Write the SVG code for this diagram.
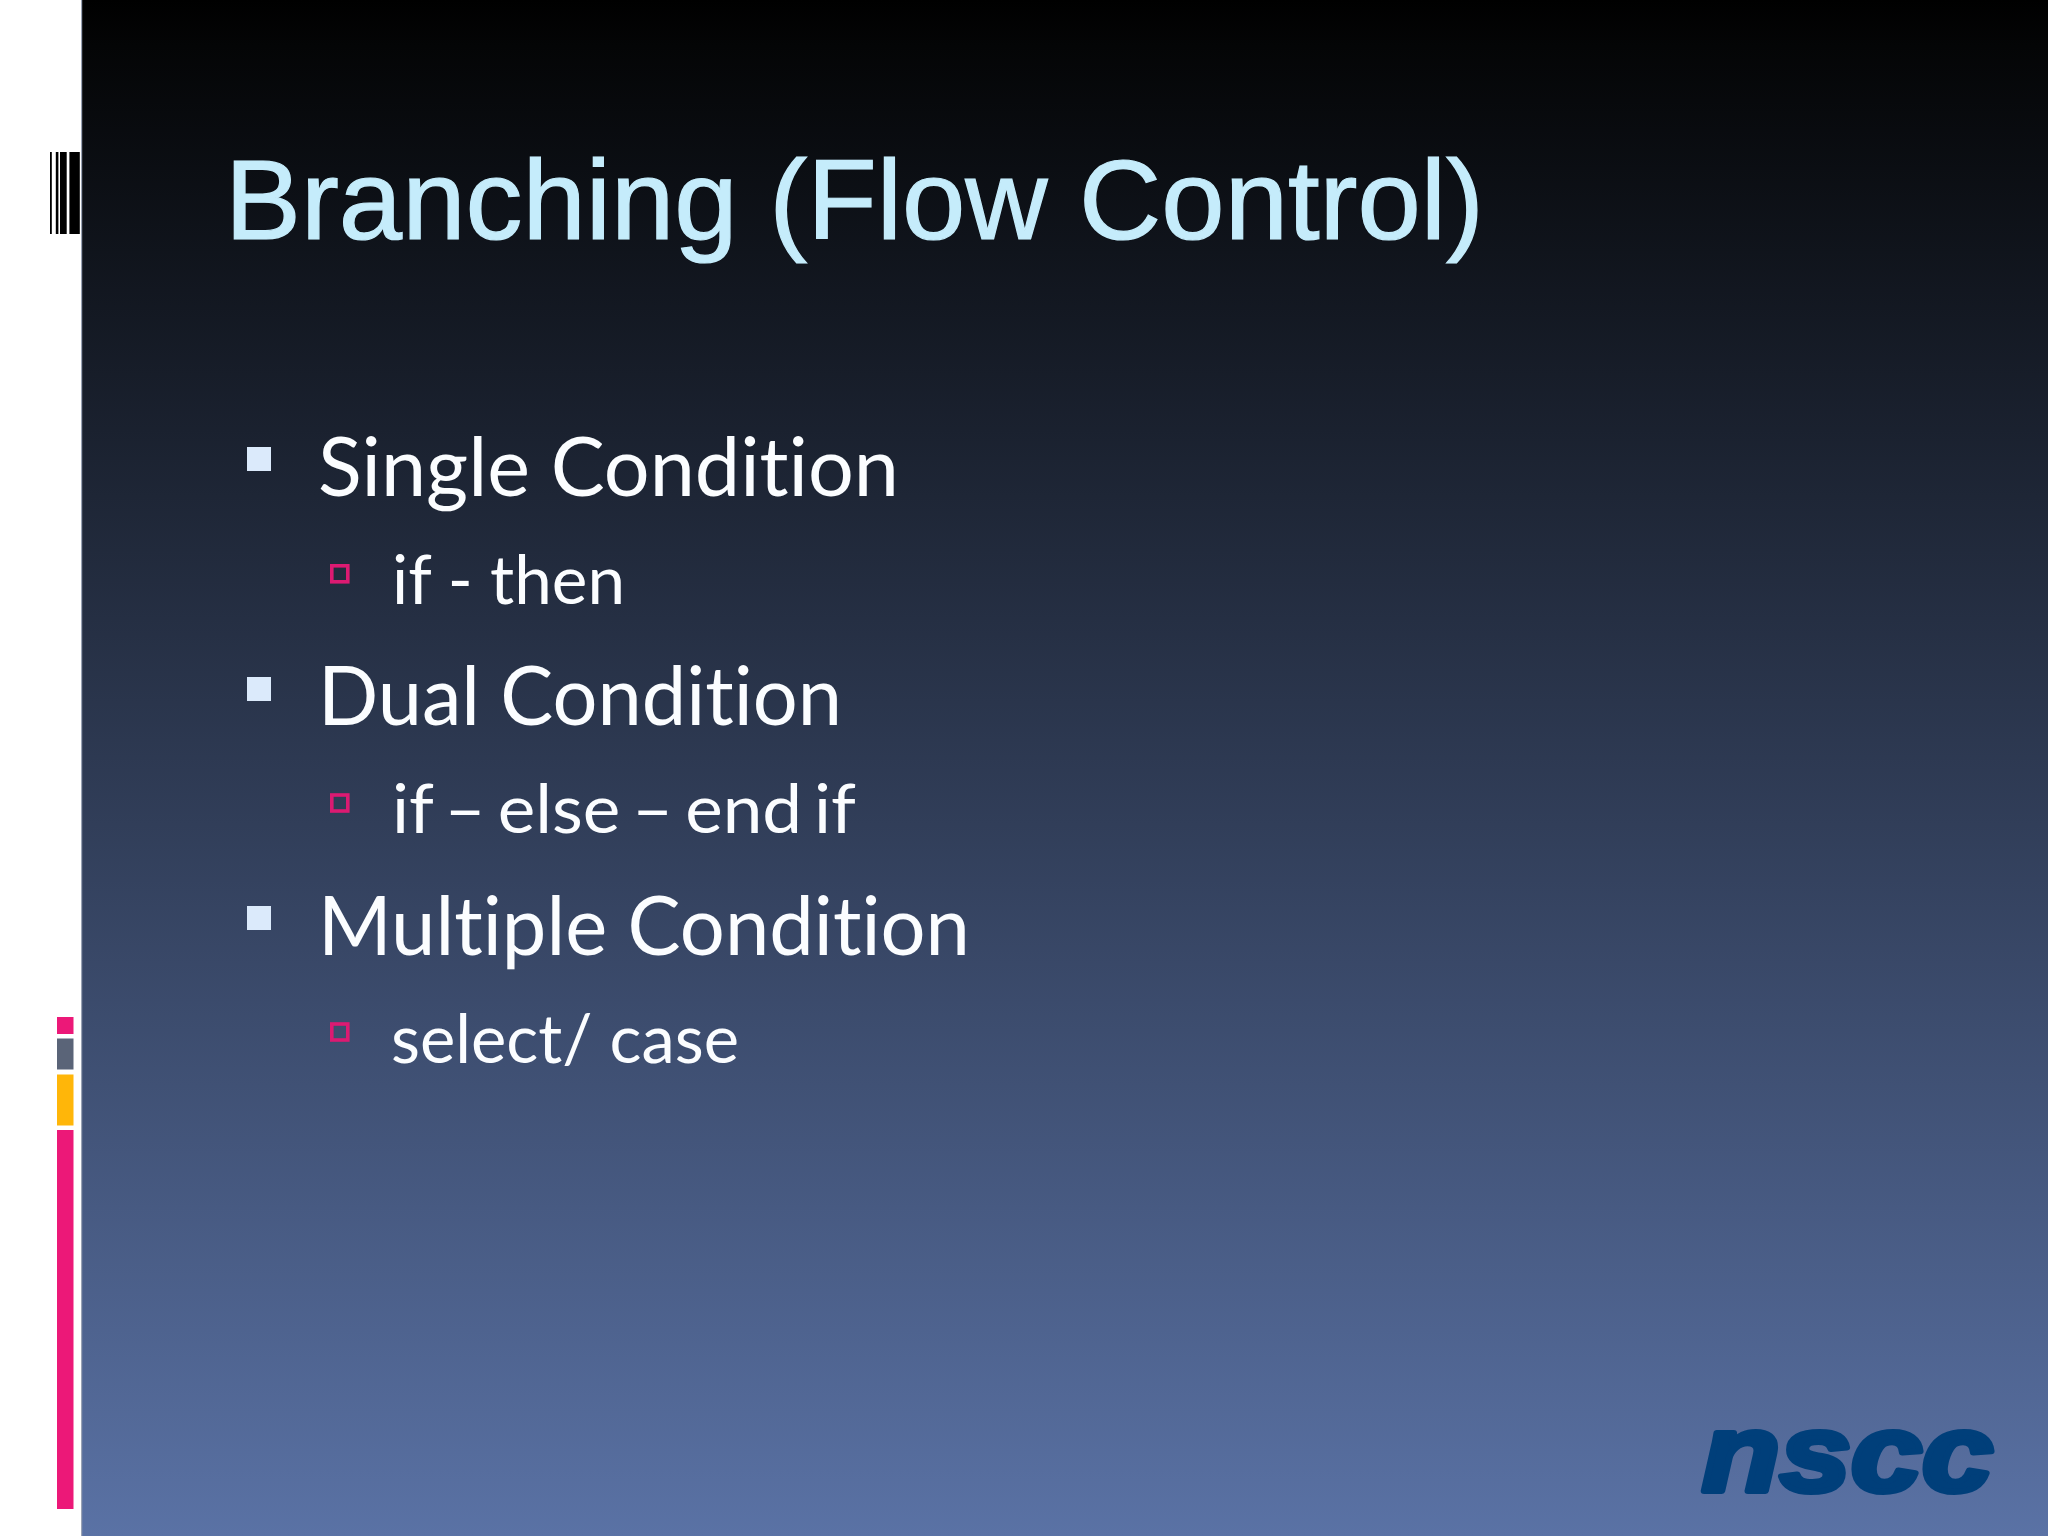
<svg xmlns="http://www.w3.org/2000/svg" width="2048" height="1536" viewBox="0 0 2048 1536">
<style>
.body{font-family:"Lato","Carlito","Liberation Sans",sans-serif;fill:#fbfdff;font-variant-ligatures:none}
.l1{font-size:81px}
.l2{font-size:68px}
.b1{fill:#dbeafb}
.b2{fill:none;stroke:#dc1a72;stroke-width:3.6}
.pink{fill:#ec1878}
.bar{fill:#000}
</style>
<defs>
<linearGradient id="bg" x1="0" y1="0" x2="0" y2="1">
<stop offset="0" stop-color="#000"/>
<stop offset="0.03" stop-color="#040506"/>
<stop offset="1" stop-color="#5a72a5"/>
</linearGradient>
</defs>
<rect id="page" width="2048" height="1536" fill="#fff"/>
<rect id="panel" x="82" width="1966" height="1536" fill="url(#bg)"/>
<rect x="81" width="1.2" height="1536" fill="#9aa3b5"/>
<g id="barcode">
<rect class="bar" x="50" y="152" width="1.8" height="82"/>
<rect class="bar" x="55.8" y="152" width="2.6" height="82"/>
<rect class="bar" x="60" y="152" width="6.7" height="82"/>
<rect class="bar" x="69.4" y="152" width="10.4" height="82"/>
</g>
<g id="strip">
<rect class="pink" x="57" y="1017" width="16.5" height="17"/>
<rect x="57" y="1038.500" width="16.500" height="31" fill="#5a6478"/>
<rect x="57" y="1074.500" width="16.500" height="51" fill="#ffb609"/>
<rect class="pink" x="57" y="1130" width="16.500" height="379"/>
</g>
<text id="title" x="225" y="239" font-family="Liberation Sans,Arial,sans-serif" font-size="114" fill="#c5ecfb" stroke="#c5ecfb" stroke-width="1.2" textLength="1259" lengthAdjust="spacingAndGlyphs">Branching (Flow Control)</text>
<g id="item1">
<rect class="b1" x="247" y="447" width="24" height="24"/>
<text class="body l1" x="318" y="496" textLength="581" lengthAdjust="spacingAndGlyphs">Single Condition</text>
</g>
<g id="item1a">
<rect class="b2" x="331.800" y="565.800" width="16" height="16"/>
<text class="body l2" x="392" y="604" textLength="233" lengthAdjust="spacingAndGlyphs">if - then</text>
</g>
<g id="item2">
<rect class="b1" x="247" y="677" width="24" height="24"/>
<text class="body l1" x="318" y="725" textLength="524" lengthAdjust="spacingAndGlyphs">Dual Condition</text>
</g>
<g id="item2a">
<rect class="b2" x="331.800" y="795" width="16" height="16"/>
<text class="body l2" x="392" y="833" word-spacing="-6" textLength="464" lengthAdjust="spacingAndGlyphs">if – else – end if</text>
</g>
<g id="item3">
<rect class="b1" x="247" y="906" width="24" height="24"/>
<text class="body l1" x="318" y="955" textLength="652" lengthAdjust="spacingAndGlyphs">Multiple Condition</text>
</g>
<g id="item3a">
<rect class="b2" x="331.800" y="1024" width="16" height="16"/>
<text class="body l2" x="391" y="1063" textLength="348" lengthAdjust="spacingAndGlyphs">select/ case</text>
</g>
<text id="logo" x="1702" y="1491" font-family="Liberation Sans,Arial,sans-serif" font-weight="bold" font-style="italic" font-size="110" fill="#003f7a" stroke="#003f7a" stroke-width="6" stroke-linejoin="round" textLength="291" lengthAdjust="spacingAndGlyphs">nscc</text>
</svg>
